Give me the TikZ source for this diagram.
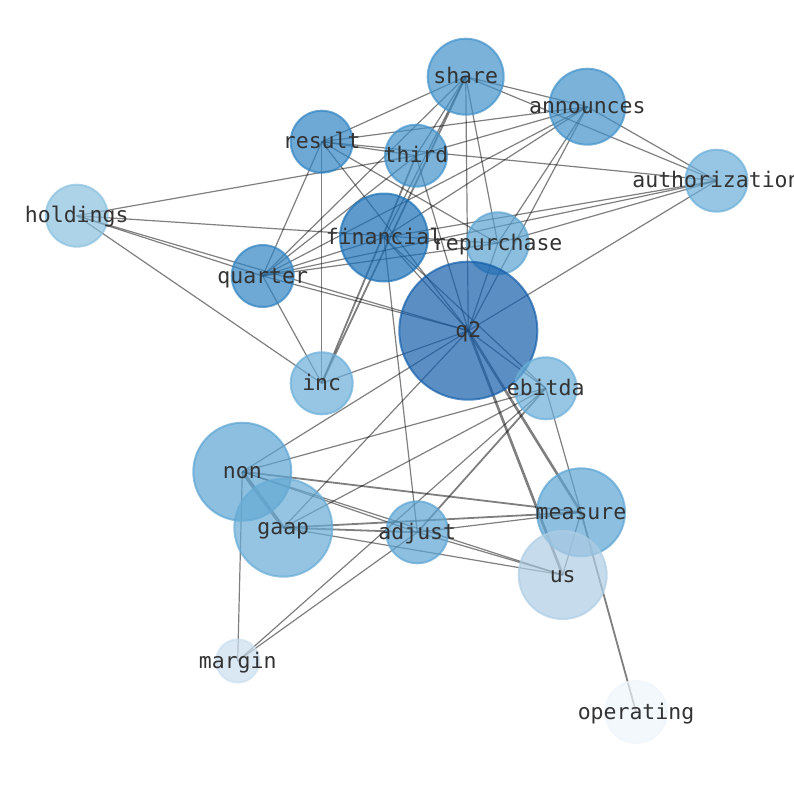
\documentclass[tikz,border=0pt]{standalone}
\usepackage{fontspec}
\newfontfamily\lbfont{DejaVu Sans Mono}
\definecolor{cqtwo}{RGB}{21,95,171}
\definecolor{cfin}{RGB}{26,112,182}
\definecolor{cres}{RGB}{48,131,194}
\definecolor{csha}{RGB}{65,145,202}
\definecolor{crep}{RGB}{90,163,209}
\definecolor{cmid}{RGB}{92,164,211}
\definecolor{cinc}{RGB}{106,174,216}
\definecolor{cgaap}{RGB}{102,171,213}
\definecolor{chold}{RGB}{138,192,222}
\definecolor{cus}{RGB}{174,205,228}
\definecolor{cmarg}{RGB}{203,222,239}
\definecolor{cop}{RGB}{238,245,252}
\definecolor{labelc}{RGB}{51,51,51}
\tikzset{
  vtx/.style={circle, inner sep=0pt, line width=2pt, fill opacity=0.7, draw opacity=0.7, fill=#1, draw=#1},
  lbl/.style={font=\lbfont\fontsize{21.5}{21.5}\selectfont, text=labelc, anchor=base, yshift=-7pt, inner sep=0pt},
  edge/.style={draw=black, opacity=0.5, line width=1.2pt},
  medge/.style={draw=black, opacity=0.5, line width=1.8pt},
  tedge/.style={draw=black, opacity=0.5, line width=2.6pt}
}
\begin{document}
\begin{tikzpicture}[x=1pt,y=-1pt]
\useasboundingbox (0,0) rectangle (794,790);
% positions
\coordinate (share) at (465.7,76.7);
\coordinate (announces) at (587.3,106.7);
\coordinate (result) at (321.7,141.7);
\coordinate (third) at (416,155.7);
\coordinate (authorization) at (716.5,180.7);
\coordinate (holdings) at (76.7,215.7);
\coordinate (financial) at (384,237.5);
\coordinate (repurchase) at (497.7,243.3);
\coordinate (quarter) at (262.7,276);
\coordinate (q2) at (468.3,330.7);
\coordinate (inc) at (321.7,383.3);
\coordinate (ebitda) at (545.7,388.3);
\coordinate (non) at (242.3,471.7);
\coordinate (gaap) at (283.3,527.7);
\coordinate (adjust) at (417.3,532.3);
\coordinate (measure) at (581,512.3);
\coordinate (us) at (562.7,575);
\coordinate (margin) at (237.7,661);
\coordinate (operating) at (636,712);
% thin edges
\foreach \a/\b in {share/result, share/announces, share/authorization, share/third, share/quarter, share/financial, share/q2, share/repurchase,
  announces/result, announces/third, announces/quarter, announces/financial, announces/repurchase, announces/q2, announces/authorization,
  result/third, result/authorization, result/repurchase, result/q2, result/quarter, result/inc,
  third/holdings, third/quarter, third/q2,
  authorization/repurchase, authorization/financial, authorization/q2, authorization/quarter,
  holdings/repurchase, holdings/quarter, holdings/q2, holdings/inc,
  quarter/financial, quarter/repurchase, quarter/q2, quarter/inc,
  financial/adjust, financial/ebitda, financial/q2,
  q2/repurchase, q2/inc, q2/ebitda, q2/non, q2/gaap,
  ebitda/non, ebitda/gaap, ebitda/margin, ebitda/measure,
  non/adjust, non/us, non/margin,
  gaap/us, adjust/us, adjust/margin,
  measure/us, measure/adjust}
  {\draw[edge] (\a) -- (\b);}
\draw[medge] (measure) -- (operating);
\draw[medge] (inc) -- (share);
\draw[medge] (inc) -- (third);
\draw[tedge] (q2) -- (measure);
\draw[tedge] (q2) -- (us);
\draw[medge] (non) -- (measure);
\draw[medge] (gaap) -- (measure);
\draw[medge] (gaap) -- (adjust);
\draw[medge] (adjust) -- (ebitda);
\draw[draw=black, opacity=0.5, line width=3.5pt] (non) -- (gaap);
% vertices
\node[vtx=csha, minimum size=76pt] (sharev) at (share) {};
\node[vtx=csha, minimum size=76pt] (announcesv) at (announces) {};
\node[vtx=cres, minimum size=62pt] (resultv) at (result) {};
\node[vtx=csha, minimum size=62pt] (thirdv) at (third) {};
\node[vtx=cinc, minimum size=62pt] (authorizationv) at (authorization) {};
\node[vtx=chold, minimum size=62pt] (holdingsv) at (holdings) {};
\node[vtx=cfin, minimum size=88pt] (financialv) at (financial) {};
\node[vtx=crep, minimum size=62pt] (repurchasev) at (repurchase) {};
\node[vtx=cres, minimum size=62pt] (quarterv) at (quarter) {};
\node[vtx=cqtwo, minimum size=138pt] (q2v) at (q2) {};
\node[vtx=cinc, minimum size=62pt] (incv) at (inc) {};
\node[vtx=cinc, minimum size=62pt] (ebitdav) at (ebitda) {};
\node[vtx=cmid, minimum size=98pt] (nonv) at (non) {};
\node[vtx=cgaap, minimum size=98pt] (gaapv) at (gaap) {};
\node[vtx=cmid, minimum size=62pt] (adjustv) at (adjust) {};
\node[vtx=cmid, minimum size=88pt] (measurev) at (measure) {};
\node[vtx=cus, minimum size=88pt] (usv) at (us) {};
\node[vtx=cmarg, minimum size=43pt] (marginv) at (margin) {};
\node[vtx=cop, minimum size=62pt] (operatingv) at (operating) {};
% labels
\foreach \n in {share, announces, result, third, authorization, holdings, financial, repurchase, quarter, q2, inc, ebitda, non, gaap, adjust, measure, us, margin, operating}
  {\node[lbl] (\n-l) at (\n) {\n};}
\end{tikzpicture}
\end{document}
